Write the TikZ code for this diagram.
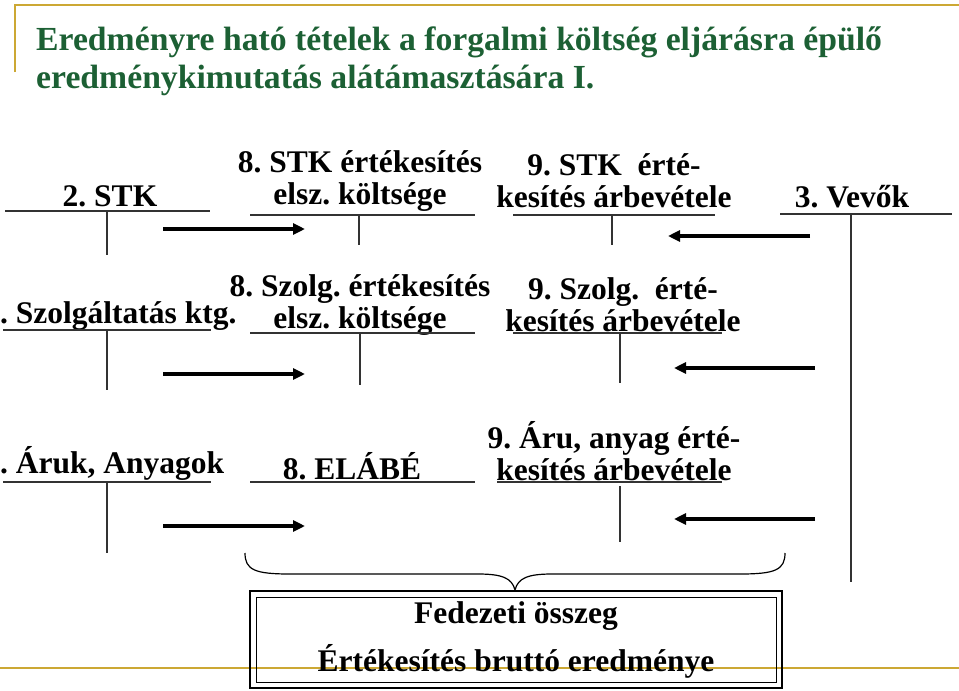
\documentclass[tikz,border=0pt]{standalone}
\usepackage{fontspec}
\setmainfont{Liberation Serif}
\usetikzlibrary{arrows.meta}
\definecolor{titlegreen}{RGB}{28,96,52}
\definecolor{gold}{RGB}{204,168,52}
\tikzset{
  lbl/.style={font=\fontsize{31.5}{32}\selectfont\bfseries, inner sep=0pt, align=center},
  ttl/.style={font=\fontsize{33.7}{38}\selectfont\bfseries, text=titlegreen, inner sep=0pt, anchor=base west},
  acct/.style={line width=1.4pt, draw=black!80},
  flow/.style={line width=3.2pt, -{Triangle[length=12pt,width=11pt]}},
  goldline/.style={line width=2.2pt, draw=gold}
}
\begin{document}
\frenchspacing
\begin{tikzpicture}[x=1pt,y=-1pt]
\useasboundingbox (0,0) rectangle (959,691);
% template decoration
\draw[goldline] (15,72) -- (15,5) -- (959,5);
\draw[goldline] (0,668) -- (959,668);
% title
\node[ttl] (t1) at (36,50) {Eredményre ható tételek a forgalmi költség eljárásra épülő};
\node[ttl] (t2) at (36,88) {eredménykimutatás alátámasztására I.};

% ---------- row 1 ----------
\node[lbl] (stk) at (110,196) {2. STK};
\node[lbl] (stk8) at (360,181) {8. STK értékesítés\\elsz. költsége};
\node[lbl] (stk9) at (614,181) {9. STK\ \ érté-\\kesítés árbevétele};
\node[lbl] (vevo) at (852,197) {3. Vevők};
\coordinate (a1) at (5,211);   \coordinate (a1e) at (210,211);
\coordinate (a1t) at (107,211); \coordinate (a1b) at (107,255);
\draw[acct] (a1) -- (a1e); \draw[acct] (a1t) -- (a1b);
\coordinate (b1) at (250,215); \coordinate (b1e) at (475,215);
\coordinate (b1t) at (359,215); \coordinate (b1b) at (359,245);
\draw[acct] (b1) -- (b1e); \draw[acct] (b1t) -- (b1b);
\coordinate (c1) at (513,215); \coordinate (c1e) at (715,215);
\coordinate (c1t) at (612,215); \coordinate (c1b) at (612,245);
\draw[acct] (c1) -- (c1e); \draw[acct] (c1t) -- (c1b);
\coordinate (d1) at (780,214); \coordinate (d1e) at (952,214);
\coordinate (d1t) at (851,214); \coordinate (d1b) at (851,582);
\draw[acct] (d1) -- (d1e); \draw[acct] (d1t) -- (d1b);
\coordinate (r1s) at (163,229); \coordinate (r1e) at (305,229);
\draw[flow] (r1s) -- (r1e);
\coordinate (l1s) at (810,236); \coordinate (l1e) at (668,236);
\draw[flow] (l1s) -- (l1e);

% ---------- row 2 ----------
\node[lbl, anchor=west] (szolg) at (0,316) {. Szolgáltatás ktg.};
\node[lbl] (szolg8) at (360,305) {8. Szolg. értékesítés\\elsz. költsége};
\node[lbl] (szolg9) at (623,305) {9. Szolg.\ \ érté-\\kesítés árbevétele};
\coordinate (a2) at (3,330);   \coordinate (a2e) at (211,330);
\coordinate (a2t) at (107,330); \coordinate (a2b) at (107,390);
\draw[acct] (a2) -- (a2e); \draw[acct] (a2t) -- (a2b);
\coordinate (b2) at (250,333); \coordinate (b2e) at (475,333);
\coordinate (b2t) at (360,333); \coordinate (b2b) at (360,385);
\draw[acct] (b2) -- (b2e); \draw[acct] (b2t) -- (b2b);
\coordinate (c2) at (513,333); \coordinate (c2e) at (722,333);
\coordinate (c2t) at (620,334); \coordinate (c2b) at (620,383);
\draw[acct] (c2) -- (c2e); \draw[acct] (c2t) -- (c2b);
\coordinate (r2s) at (163,374); \coordinate (r2e) at (305,374);
\draw[flow] (r2s) -- (r2e);
\coordinate (l2s) at (815,368); \coordinate (l2e) at (674,368);
\draw[flow] (l2s) -- (l2e);

% ---------- row 3 ----------
\node[lbl, anchor=west] (aruk) at (0,463) {. Áruk, Anyagok};
\node[lbl] (elabe) at (352,466) {8. ELÁBÉ};
\node[lbl] (aru9) at (614,451) {9. Áru, anyag érté-\\kesítés árbevétele};
\coordinate (a3) at (3,482);   \coordinate (a3e) at (211,482);
\coordinate (a3t) at (107,482); \coordinate (a3b) at (107,553);
\draw[acct] (a3) -- (a3e); \draw[acct] (a3t) -- (a3b);
\coordinate (b3) at (250,482); \coordinate (b3e) at (475,482);
\draw[acct] (b3) -- (b3e);
\coordinate (c3) at (497,482); \coordinate (c3e) at (722,482);
\coordinate (c3t) at (620,486); \coordinate (c3b) at (620,542);
\draw[acct] (c3) -- (c3e); \draw[acct] (c3t) -- (c3b);
\coordinate (r3s) at (163,526); \coordinate (r3e) at (305,526);
\draw[flow] (r3s) -- (r3e);
\coordinate (l3s) at (815,519); \coordinate (l3e) at (674,519);
\draw[flow] (l3s) -- (l3e);

% ---------- brace and result box ----------
\coordinate (brl) at (245,553); \coordinate (brr) at (785,553);
\coordinate (brtip) at (515,590);
\draw[line width=1.2pt, line join=round]
  (brl) .. controls (245,570) and (255,574) .. (290,574)
  -- (478,574) .. controls (502,574) and (512,578) .. (brtip)
  .. controls (518,578) and (528,574) .. (552,574)
  -- (740,574) .. controls (775,574) and (785,570) .. (brr);
\node[draw, line width=2.6pt, minimum width=532pt, minimum height=97pt, inner sep=0pt] (box) at (516,639.5) {};
\node[draw, line width=1pt, minimum width=520pt, minimum height=85pt, inner sep=0pt] (boxin) at (box.center) {};
\node[lbl] (fed) at (516,616) {Fedezeti összeg};
\node[lbl] (ert) at (516,661) {Értékesítés bruttó eredménye};
\end{tikzpicture}
\end{document}
